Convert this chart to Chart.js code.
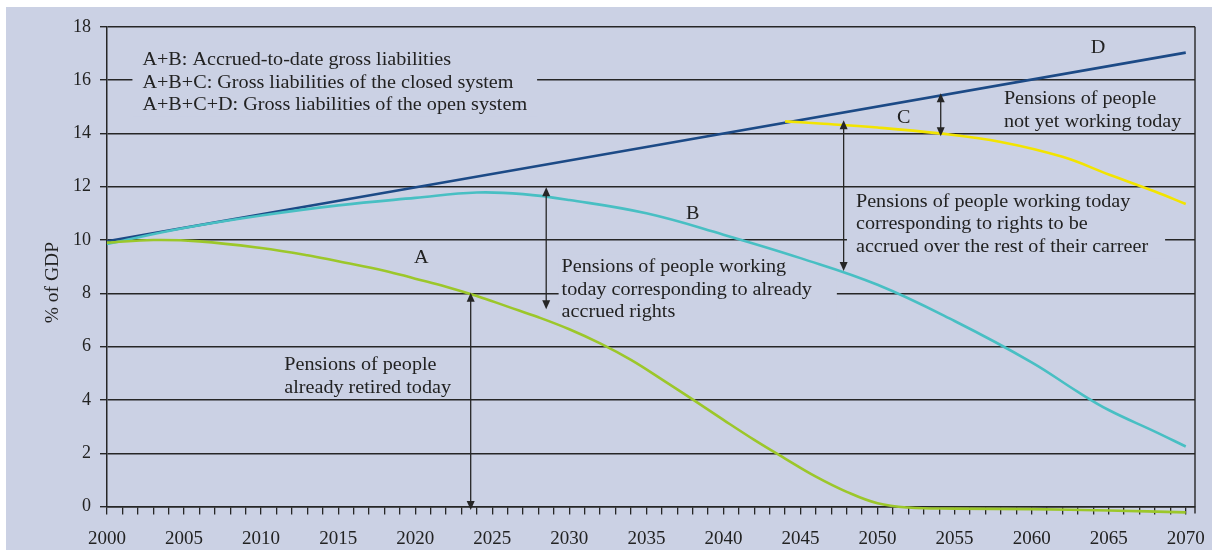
<!DOCTYPE html>
<html>
<head>
<meta charset="utf-8">
<script src="https://cdn.jsdelivr.net/npm/chart.js@4.4.1/dist/chart.umd.min.js"></script>
<style>
body { margin: 0; background: #ffffff; }
#box { position: absolute; left: 6px; top: 7px; width: 1206px; height: 543px; background: #cbd1e4; }
</style>
</head>
<body>
<div id="box"><canvas id="pensionChart" width="1206" height="543"></canvas></div>
<script>
// A: pensions of people already retired today
const years_A = [2000, 2003, 2006, 2010, 2013, 2015, 2018, 2020, 2022, 2024, 2026, 2028, 2030, 2032, 2034, 2036, 2038, 2040, 2042, 2044, 2046, 2048, 2050, 2052, 2055, 2060, 2065, 2070];
const values_A = [9.9, 10.0, 9.95, 9.7, 9.43, 9.2, 8.85, 8.55, 8.25, 7.9, 7.5, 7.1, 6.65, 6.12, 5.5, 4.77, 4.02, 3.25, 2.5, 1.8, 1.12, 0.55, 0.12, -0.04, -0.08, -0.1, -0.15, -0.22];
// A+B
const years_B = [2000, 2005, 2010, 2015, 2020, 2024, 2027, 2030, 2035, 2040, 2045, 2050, 2055, 2060, 2063, 2065, 2068, 2070];
const values_B = [9.85, 10.45, 10.92, 11.3, 11.58, 11.78, 11.72, 11.5, 11.0, 10.2, 9.32, 8.32, 6.96, 5.41, 4.3, 3.62, 2.81, 2.25];
// A+B+C
const years_C = [2044, 2046, 2050, 2054, 2058, 2062, 2065, 2068, 2070];
const values_C = [14.45, 14.38, 14.22, 14.0, 13.68, 13.12, 12.46, 11.82, 11.35];
// A+B+C+D
const years_D = [2000, 2070];
const values_D = [9.95, 17.03];

const first_year = 2000;
const last_year = 2070;
const x_labels_every = 5;
const y_ticks = [0, 2, 4, 6, 8, 10, 12, 14, 16, 18];

const bg_color = '#cbd1e4';
const ink = '#262626';
const serif = '"Liberation Serif", "DejaVu Serif", serif';
const note_font = '18px ' + serif;
const note_stretch = 1.12;
const line_h = 22.5;

// text notes, anchored in data coordinates (year, % of GDP)
const notes = [
    {lines: ['A+B: Accrued-to-date gross liabilities', 'A+B+C: Gross liabilities of the closed system', 'A+B+C+D: Gross liabilities of the open system'], year: 2002.3, value: 16.77, box: [10, 10]},
    {lines: ['D'], year: 2064.3, value: 17.25, align: 'center'},
    {lines: ['C'], year: 2051.7, value: 14.6, align: 'center'},
    {lines: ['B'], year: 2038.0, value: 11.02, align: 'center'},
    {lines: ['A'], year: 2020.4, value: 9.36, align: 'center'},
    {lines: ['Pensions of people', 'not yet working today'], year: 2058.2, value: 15.3},
    {lines: ['Pensions of people working today', 'corresponding to rights to be', 'accrued over the rest of their carreer'], year: 2048.6, value: 11.46, box: [9, 17]},
    {lines: ['Pensions of people working', 'today corresponding to already', 'accrued rights'], year: 2029.5, value: 9.0, box: [3, 25]},
    {lines: ['Pensions of people', 'already retired today'], year: 2011.5, value: 5.32}
];

// vertical double arrows: year, top tip value, bottom tip value
const arrows = [
    [2023.6, 8.02, -0.13],
    [2028.5, 11.98, 7.4],
    [2047.8, 14.49, 8.84],
    [2054.1, 15.51, 13.89]
];

function to_points(xs, ys) {
    return xs.map((x, i) => ({x: x, y: ys[i]}));
}

function draw_note(ctx, chart, note) {
    const x = chart.scales.x.getPixelForValue(note.year);
    const y = chart.scales.y.getPixelForValue(note.value);
    ctx.save();
    ctx.font = note_font;
    if (note.box) {
        const w = Math.max(...note.lines.map(l => ctx.measureText(l).width)) * note_stretch;
        ctx.fillStyle = bg_color;
        ctx.fillRect(x - note.box[0], y - line_h / 2 - 1, w + note.box[0] + note.box[1], note.lines.length * line_h + 2);
    }
    ctx.translate(x, 0);
    ctx.scale(note_stretch, 1);
    ctx.fillStyle = '#222';
    ctx.textAlign = note.align || 'left';
    ctx.textBaseline = 'middle';
    note.lines.forEach((l, i) => ctx.fillText(l, 0, y + 1 + i * line_h));
    ctx.restore();
}

function draw_arrow(ctx, x, y1, y2) {
    const head = 9, half = 4;
    ctx.strokeStyle = ink;
    ctx.fillStyle = ink;
    ctx.lineWidth = 1.3;
    ctx.beginPath();
    ctx.moveTo(x, y1 + head - 1);
    ctx.lineTo(x, y2 - head + 1);
    ctx.stroke();
    ctx.beginPath();
    ctx.moveTo(x, y1);
    ctx.lineTo(x - half, y1 + head);
    ctx.lineTo(x + half, y1 + head);
    ctx.closePath();
    ctx.fill();
    ctx.beginPath();
    ctx.moveTo(x, y2);
    ctx.lineTo(x - half, y2 - head);
    ctx.lineTo(x + half, y2 - head);
    ctx.closePath();
    ctx.fill();
}

const notesPlugin = {
    id: 'notes',
    beforeDatasetsDraw(chart) {
        const ctx = chart.ctx;
        const area = chart.chartArea;
        ctx.save();
        // right frame line
        ctx.strokeStyle = ink;
        ctx.lineWidth = 1.4;
        ctx.beginPath();
        ctx.moveTo(area.right, area.top);
        ctx.lineTo(area.right, area.bottom + 7);
        ctx.stroke();
        notes.forEach(n => draw_note(ctx, chart, n));
        // y axis title
        ctx.translate(area.left - 54, chart.scales.y.getPixelForValue(8.4));
        ctx.rotate(-Math.PI / 2);
        ctx.font = '19.5px ' + serif;
        ctx.fillStyle = '#222';
        ctx.textAlign = 'center';
        ctx.textBaseline = 'middle';
        ctx.fillText('% of GDP', 0, 0);
        ctx.restore();
    },
    afterDatasetsDraw(chart) {
        const ctx = chart.ctx;
        ctx.save();
        arrows.forEach(a => {
            draw_arrow(ctx, chart.scales.x.getPixelForValue(a[0]),
                chart.scales.y.getPixelForValue(a[1]),
                chart.scales.y.getPixelForValue(a[2]));
        });
        ctx.restore();
    }
};

function line_set(label, xs, ys, color) {
    return {
        label: label,
        data: to_points(xs, ys),
        borderColor: color,
        borderWidth: 2.6,
        pointRadius: 0,
        fill: false,
        clip: false,
        tension: 0.4
    };
}

const ctx = document.getElementById('pensionChart').getContext('2d');
const pensionChart = new Chart(ctx, {
    type: 'line',
    data: {
        datasets: [
            line_set('A', years_A, values_A, '#9cc72a'),
            line_set('A+B', years_B, values_B, '#48bfc3'),
            line_set('A+B+C', years_C, values_C, '#f2e400'),
            line_set('A+B+C+D', years_D, values_D, '#1c4a86')
        ]
    },
    options: {
        responsive: false,
        animation: false,
        layout: { padding: { top: 19, right: 17, left: 0, bottom: 0 } },
        plugins: {
            legend: { display: false },
            tooltip: { enabled: false }
        },
        scales: {
            x: {
                type: 'linear',
                min: first_year,
                max: last_year + 0.6,
                afterBuildTicks: scale => {
                    const t = [];
                    for (let yr = first_year; yr <= last_year; yr++) t.push({value: yr});
                    scale.ticks = t;
                },
                afterFit: scale => {
                    scale.height = 43.5;
                    scale.paddingLeft = 0;
                    scale.paddingRight = 0;
                },
                ticks: {
                    autoSkip: false,
                    maxRotation: 0,
                    padding: 13,
                    color: '#222',
                    font: { family: serif, size: 19 },
                    callback: v => (v % x_labels_every === 0 ? String(v) : '')
                },
                grid: { drawOnChartArea: false, drawTicks: true, tickLength: 8, color: ink, lineWidth: 1.3 },
                border: { display: true, color: ink, width: 1.5 }
            },
            y: {
                min: 0,
                max: 18,
                afterBuildTicks: scale => {
                    scale.ticks = y_ticks.map(v => ({value: v}));
                },
                afterFit: scale => { scale.width = 101; },
                ticks: {
                    padding: 9,
                    color: '#222',
                    font: { family: serif, size: 18 }
                },
                grid: { color: ink, lineWidth: 1.4, tickLength: 7 },
                border: { display: true, color: ink, width: 1.5 }
            }
        }
    },
    plugins: [notesPlugin]
});
</script>
</body>
</html>
